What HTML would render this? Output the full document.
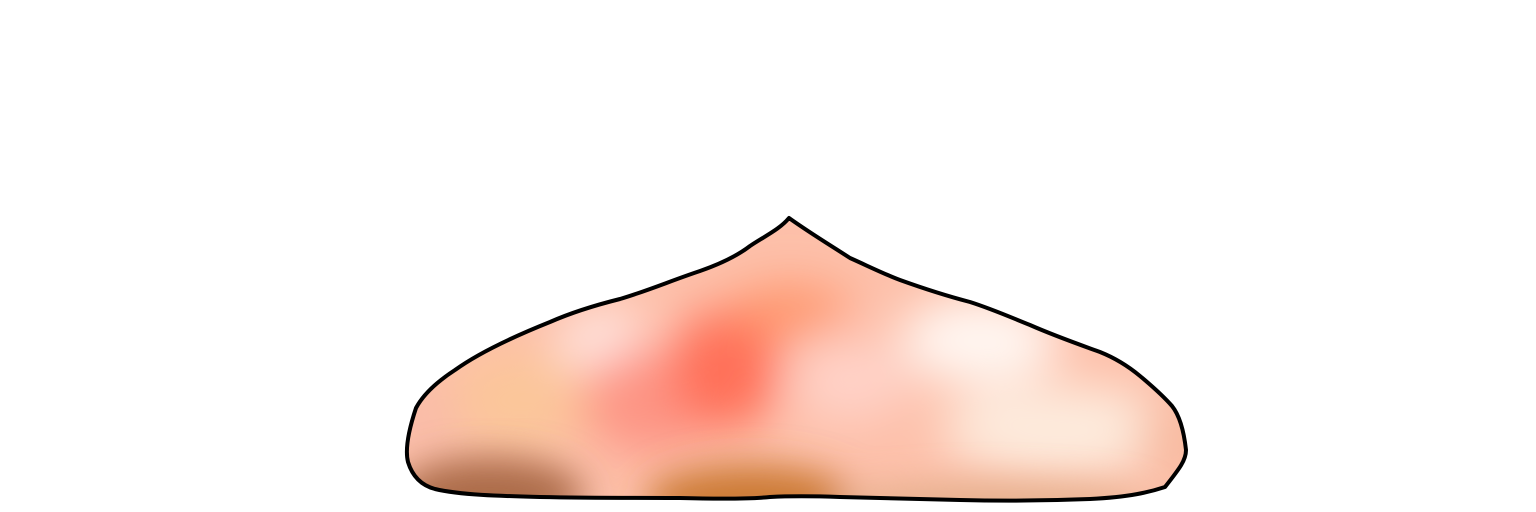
<!DOCTYPE html>
<html><head><meta charset="utf-8"><style>html,body{margin:0;padding:0;background:#fff;width:1536px;height:512px;overflow:hidden}</style></head>
<body>
<svg width="1536" height="512" viewBox="0 0 1536 512">
<defs>
<clipPath id="c"><path id="shape" d="M789,218 C810,233 830,245 850,258 C868,266 884,274 900,280 C925,289 947,296 970,302 C992,309 1010,317 1030,325 C1055,336 1078,344 1100,352 C1115,358 1128,366 1140,376 C1152,386 1165,398 1172,406 C1180,416 1184,432 1186,450 C1186,460 1180,468 1165,487 C1150,492 1130,497 1090,499 C1040,501 1000,501 960,500 C920,499 880,498 840,497 C810,496 790,496 770,497 C750,499 720,499 680,498 C640,498 590,498 540,497 C500,496 460,495 435,489 C420,485 412,475 408,462 C405,450 408,432 416,408 C423,395 435,383 455,370 C480,352 515,336 550,322 C575,311 600,304 620,299 C650,290 670,281 700,271 C720,264 737,256 750,246 C765,236 780,229 789,218 Z"/></clipPath>
<filter id="b" x="-50%" y="-50%" width="200%" height="200%"><feGaussianBlur stdDeviation="24"/></filter>
<filter id="b2" x="-50%" y="-50%" width="200%" height="200%"><feGaussianBlur stdDeviation="18"/></filter>
</defs>
<g clip-path="url(#c)">
<rect x="380" y="200" width="830" height="320" fill="#fdc0aa"/>
<g filter="url(#b)">
<ellipse cx="520" cy="400" rx="70" ry="50" fill="#fbc69a"/>
<ellipse cx="605" cy="345" rx="45" ry="35" fill="#ffeae6"/>
<ellipse cx="650" cy="400" rx="70" ry="55" fill="#fd9585"/>
<ellipse cx="725" cy="370" rx="55" ry="60" fill="#ff7058"/>
<ellipse cx="790" cy="310" rx="60" ry="25" fill="#ff946a"/>
<ellipse cx="850" cy="380" rx="60" ry="40" fill="#ffd2c8"/>
<ellipse cx="980" cy="340" rx="80" ry="45" fill="#fff6f1"/>
<ellipse cx="1060" cy="430" rx="120" ry="45" fill="#fdebdd"/>
<ellipse cx="1170" cy="440" rx="30" ry="40" fill="#f7b89c"/>
<ellipse cx="430" cy="420" rx="25" ry="30" fill="#f7b9a8"/>
</g>
<g filter="url(#b2)">
<ellipse cx="490" cy="495" rx="95" ry="38" fill="#ac6c48"/>
<ellipse cx="750" cy="500" rx="105" ry="35" fill="#cc7a36"/>
<ellipse cx="990" cy="505" rx="160" ry="20" fill="#e2ad88"/>
</g>
</g>
<use href="#shape" fill="none" stroke="#000" stroke-width="4" stroke-linejoin="round"/>
</svg>
</body></html>
